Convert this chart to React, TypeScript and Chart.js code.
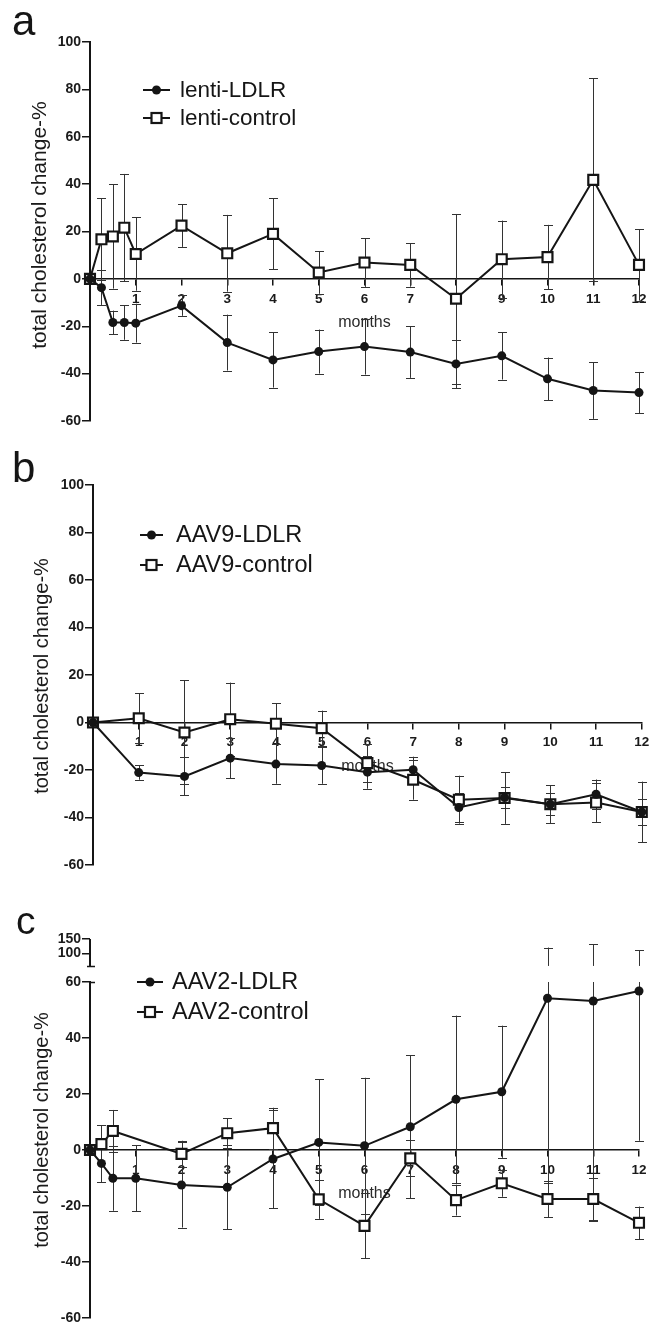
import React, { useEffect, useRef } from 'react';
import { Chart, registerables } from 'chart.js';

Chart.register(...registerables);

const FONT = '"Liberation Sans", Arial, Helvetica, sans-serif';
const INK = '#151515';
const BAR = '#333333';

// ---------- Panel a : lentivirus ----------
const A_MONTHS = [0, 0.25, 0.5, 0.75, 1, 2, 3, 4, 5, 6, 7, 8, 9, 10, 11, 12];
const A_LDLR = [0, -3.7, -18.4, -18.4, -18.7, -11.3, -26.9, -34.2, -30.7, -28.6, -30.9, -35.9, -32.5, -42.2, -47.1, -48.0];
const A_LDLR_ERR = [0, 7.3, 5.0, 7.3, 8.2, 4.3, 11.8, 11.7, 9.3, 11.8, 10.9, 10.2, 10.0, 9.0, 12.0, 8.7];
const A_CTRL = [0, 16.7, 17.9, 21.6, 10.5, 22.5, 10.8, 19.0, 2.7, 6.9, 5.9, -8.4, 8.3, 9.2, 41.8, 5.9];
const A_CTRL_ERR = [0, 17.3, 22.0, 22.7, 15.5, 9.0, 16.2, 15.0, 9.0, 10.3, 9.2, 35.8, 16.3, 13.6, 42.9, 15.1];

// ---------- Panel b : AAV9 ----------
const B_MONTHS = [0, 1, 2, 3, 4, 5, 6, 7, 8, 9, 10, 11, 12];
const B_LDLR = [0, -21.1, -22.7, -15.0, -17.5, -18.1, -20.9, -19.9, -35.8, -31.6, -34.4, -30.2, -37.7];
const B_LDLR_ERR = [0, 3.0, 8.0, 8.4, 8.3, 7.7, 7.0, 5.5, 6.0, 4.5, 4.6, 6.2, 12.8];
const B_CTRL = [0, 1.8, -4.2, 1.4, -0.5, -2.4, -17.1, -24.1, -32.5, -31.8, -34.4, -33.7, -37.7];
const B_CTRL_ERR = [0, 10.6, 21.9, 15.4, 8.7, 7.4, 8.0, 8.4, 10.1, 10.9, 8.0, 8.3, 5.4];

// ---------- Panel c : AAV2 ----------
const C_LDLR_MONTHS = [0, 0.25, 0.5, 1, 2, 3, 4, 5, 6, 7, 8, 9, 10, 11, 12];
const C_LDLR = [0, -4.8, -10.1, -10.1, -12.5, -13.3, -3.2, 2.7, 1.5, 8.3, 18.1, 20.8, 54.2, 53.2, 56.8];
const C_LDLR_ERR = [0, 6.7, 11.6, 11.8, 15.2, 15.0, 17.6, 22.5, 24.3, 25.6, 29.9, 23.6, 66.0, 78.6, 53.5];
const C_CTRL_MONTHS = [0, 0.25, 0.5, 2, 3, 4, 5, 6, 7, 8, 9, 10, 11, 12];
const C_CTRL = [0, 2.1, 6.8, -1.4, 6.0, 7.8, -17.6, -27.1, -3.0, -17.9, -11.9, -17.5, -17.5, -26.0];
const C_CTRL_ERR = [0, 6.8, 7.5, 4.7, 5.3, 7.3, 7.0, 11.6, 6.4, 5.5, 4.8, 6.5, 7.6, 5.8];
const C_UPPER_TICKS = [100, 150];

const Y_TITLE = 'total cholesterol change-%';
const X_TITLE = 'months';

function pts(xs: number[], ys: number[]) {
  return xs.map((x, i) => ({ x, y: ys[i] }));
}

const errorBars = {
  id: 'errorBars',
  beforeDatasetsDraw(chart: any, _a: any, opts: any) {
    const { ctx, scales } = chart;
    const xs = scales.x, ys = scales.y, ys2 = scales.y2;
    const cap = 4.5;
    const r = (v: number) => Math.round(v) + 0.5;
    ctx.save();
    ctx.strokeStyle = BAR;
    ctx.lineWidth = 1;
    const seg = (x: number, y1: number, y2: number) => {
      ctx.beginPath(); ctx.moveTo(x, y1); ctx.lineTo(x, y2); ctx.stroke();
    };
    const capAt = (x: number, y: number) => {
      ctx.beginPath(); ctx.moveTo(x - cap, r(y)); ctx.lineTo(x + cap, r(y)); ctx.stroke();
    };
    chart.data.datasets.forEach((ds: any) => {
      const errs: number[] = ds.errors || [];
      ds.data.forEach((p: any, i: number) => {
        const e = errs[i];
        if (!e) return;
        const x = r(xs.getPixelForValue(p.x));
        const lo = p.y - e, hi = p.y + e;
        const pLo = ys.getPixelForValue(lo);
        capAt(x, pLo);
        if (ys2 && hi > ys.max) {
          seg(x, pLo, ys.getPixelForValue(ys.max));
          const top = ys2.getPixelForValue(hi);
          seg(x, ys2.getPixelForValue(opts.breakAt), top);
          capAt(x, top);
        } else {
          const pHi = ys.getPixelForValue(hi);
          seg(x, pLo, pHi);
          capAt(x, pHi);
        }
      });
    });
    ctx.restore();
  },
};

function drawMarker(ctx: CanvasRenderingContext2D, kind: string, x: number, y: number) {
  ctx.save();
  if (kind === 'circle') {
    ctx.fillStyle = INK;
    ctx.beginPath(); ctx.arc(x, y, 4.5, 0, Math.PI * 2); ctx.fill();
  } else {
    ctx.fillStyle = '#fff';
    ctx.strokeStyle = INK;
    ctx.lineWidth = 2.2;
    ctx.fillRect(x - 5, y - 5, 10, 10);
    ctx.strokeRect(x - 5, y - 5, 10, 10);
  }
  ctx.restore();
}

const decor = {
  id: 'decor',
  afterDraw(chart: any, _a: any, o: any) {
    const { ctx, chartArea, scales } = chart;
    ctx.save();
    ctx.fillStyle = INK;
    ctx.font = `${o.letterSize}px ${FONT}`;
    ctx.textAlign = 'left';
    ctx.textBaseline = 'alphabetic';
    ctx.fillText(o.letter, o.letterX, o.letterY);

    // y-axis title (rotated)
    ctx.save();
    ctx.translate(o.titleX, o.titleY);
    ctx.rotate(-Math.PI / 2);
    ctx.textAlign = 'center';
    ctx.textBaseline = 'middle';
    ctx.fillStyle = '#1a1a1a';
    ctx.font = `${o.titleSize}px ${FONT}`;
    ctx.fillText(Y_TITLE, 0, 0);
    ctx.restore();

    if (scales.y2) {
      const x = chartArea.left;
      const yTop = scales.y2.getPixelForValue(scales.y2.max);
      const yBot = Math.round(scales.y2.getPixelForValue(o.breakAt)) + 0.5;
      ctx.strokeStyle = INK;
      ctx.lineWidth = 2;
      ctx.beginPath(); ctx.moveTo(x, yTop); ctx.lineTo(x, yBot); ctx.stroke();
      ctx.lineWidth = 1.5;
      ctx.beginPath(); ctx.moveTo(x - 3, yBot); ctx.lineTo(x + 5, yBot); ctx.stroke();
      const yLow = Math.round(scales.y.getPixelForValue(scales.y.max)) + 0.5;
      ctx.beginPath(); ctx.moveTo(x, yLow); ctx.lineTo(x + 5, yLow); ctx.stroke();
    }

    const L = o.legend;
    chart.data.datasets.forEach((ds: any, i: number) => {
      const y = chartArea.top + L.top + i * L.gap;
      const x0 = chartArea.left + L.lineStart;
      const x1 = chartArea.left + L.lineEnd;
      ctx.strokeStyle = INK;
      ctx.lineWidth = 2;
      ctx.beginPath(); ctx.moveTo(x0, y); ctx.lineTo(x1, y); ctx.stroke();
      drawMarker(ctx, ds.kind, (x0 + x1) / 2, y);
      ctx.fillStyle = INK;
      ctx.font = `${L.size}px ${FONT}`;
      ctx.textAlign = 'left';
      ctx.textBaseline = 'middle';
      ctx.fillText(ds.label, chartArea.left + L.textX, y + 1);
    });
    ctx.restore();
  },
};

type Spec = {
  letter: string; letterX: number; letterY: number; letterSize: number;
  ldlr: { label: string; x: number[]; y: number[]; err: number[] };
  ctrl: { label: string; x: number[]; y: number[]; err: number[] };
  yMin: number; yMax: number;
  upper?: boolean;
  padding: { left: number; top: number; right: number; bottom: number };
  yWidth: number; titleSize: number; titleX: number; titleY: number;
  legend: any;
  height: number;
};

function buildConfig(s: Spec): any {
  const tickFont = { family: FONT, size: 14, weight: 'bold' as const };
  const scales: any = {
    x: {
      type: 'linear', min: 0, max: 12, position: { y: 0 },
      border: { color: INK, width: 1.5 },
      grid: { drawOnChartArea: false, drawTicks: true, tickLength: 6, color: INK, lineWidth: 1.5 },
      ticks: {
        stepSize: 1, autoSkip: false, maxRotation: 0, padding: 6, color: '#1a1a1a',
        font: { family: FONT, size: 13.5, weight: 'bold' },
        callback: (v: number) => (v === 0 ? '' : String(v)),
      },
      title: { display: true, text: X_TITLE, color: '#2a2a2a', font: { family: FONT, size: 16 }, padding: { top: 0, bottom: 0 } },
      afterFit: (sc: any) => { sc.paddingLeft = 0; sc.paddingRight = 0; },
    },
    y: {
      type: 'linear', min: s.yMin, max: s.yMax, position: 'left',
      border: { color: INK, width: 2 },
      grid: { drawOnChartArea: false, drawTicks: true, tickLength: 8, color: INK, lineWidth: 1.5 },
      ticks: { stepSize: 20, padding: 1, color: '#1a1a1a', font: tickFont },
      afterFit: (sc: any) => { sc.width = s.yWidth; },
    },
  };
  if (s.upper) {
    scales.y.stack = 'broken';
    scales.y.stackWeight = 336;
    scales.y2 = {
      type: 'linear', min: 0, max: 150, position: 'left', stack: 'broken', stackWeight: 43,
      border: { display: false },
      grid: { drawOnChartArea: false, drawTicks: true, tickLength: 8, color: INK, lineWidth: 1.5 },
      ticks: { padding: 1, color: '#1a1a1a', font: tickFont },
      afterBuildTicks: (sc: any) => { sc.ticks = C_UPPER_TICKS.map((v) => ({ value: v })); },
      afterFit: (sc: any) => { sc.width = s.yWidth; },
    };
  }
  return {
    type: 'line',
    data: {
      datasets: [
        {
          label: s.ldlr.label, kind: 'circle', errors: s.ldlr.err,
          data: pts(s.ldlr.x, s.ldlr.y),
          borderColor: INK, borderWidth: 2, pointStyle: 'circle', pointRadius: 4.5,
          pointBackgroundColor: INK, pointBorderColor: INK, pointBorderWidth: 0,
          tension: 0, clip: false, yAxisID: 'y',
        },
        {
          label: s.ctrl.label, kind: 'square', errors: s.ctrl.err,
          data: pts(s.ctrl.x, s.ctrl.y),
          borderColor: INK, borderWidth: 2, pointStyle: 'rect', pointRadius: 7,
          pointBackgroundColor: '#ffffff', pointBorderColor: INK, pointBorderWidth: 2.2,
          tension: 0, clip: false, yAxisID: 'y',
        },
      ],
    },
    options: {
      responsive: false,
      animation: false,
      events: [],
      layout: { padding: s.padding },
      scales,
      plugins: {
        legend: { display: false },
        tooltip: { enabled: false },
        errorBars: { breakAt: 56 },
        decor: {
          letter: s.letter, letterX: s.letterX, letterY: s.letterY, letterSize: s.letterSize,
          breakAt: 56, legend: s.legend,
          titleX: s.titleX, titleY: s.titleY, titleSize: s.titleSize,
        },
      },
    },
    plugins: [errorBars, decor],
  };
}

const SPECS: { top: number; spec: Spec }[] = [
  {
    top: 0,
    spec: {
      letter: 'a', letterX: 12, letterY: 35, letterSize: 42,
      ldlr: { label: 'lenti-LDLR', x: A_MONTHS, y: A_LDLR, err: A_LDLR_ERR },
      ctrl: { label: 'lenti-control', x: A_MONTHS, y: A_CTRL, err: A_CTRL_ERR },
      yMin: -60, yMax: 100,
      padding: { left: 0, top: 42, right: 12, bottom: 19 },
      yWidth: 90, titleSize: 21, titleX: 40, titleY: 225,
      legend: { top: 48, gap: 28, lineStart: 53, lineEnd: 80, textX: 90, size: 22.5 },
      height: 440,
    },
  },
  {
    top: 440,
    spec: {
      letter: 'b', letterX: 12, letterY: 42, letterSize: 42,
      ldlr: { label: 'AAV9-LDLR', x: B_MONTHS, y: B_LDLR, err: B_LDLR_ERR },
      ctrl: { label: 'AAV9-control', x: B_MONTHS, y: B_CTRL, err: B_CTRL_ERR },
      yMin: -60, yMax: 100,
      padding: { left: 0, top: 45, right: 8, bottom: 15 },
      yWidth: 93, titleSize: 20, titleX: 42, titleY: 236,
      legend: { top: 50, gap: 30, lineStart: 47, lineEnd: 70, textX: 83, size: 23.5 },
      height: 440,
    },
  },
  {
    top: 880,
    spec: {
      letter: 'c', letterX: 16, letterY: 54, letterSize: 39,
      ldlr: { label: 'AAV2-LDLR', x: C_LDLR_MONTHS, y: C_LDLR, err: C_LDLR_ERR },
      ctrl: { label: 'AAV2-control', x: C_CTRL_MONTHS, y: C_CTRL, err: C_CTRL_ERR },
      yMin: -60, yMax: 60, upper: true,
      padding: { left: 0, top: 59, right: 12, bottom: 10 },
      yWidth: 90, titleSize: 20, titleX: 42, titleY: 250,
      legend: { top: 43, gap: 30, lineStart: 47, lineEnd: 73, textX: 82, size: 23.5 },
      height: 448,
    },
  },
];

function Panel({ top, spec }: { top: number; spec: Spec }) {
  const ref = useRef<HTMLCanvasElement>(null);
  useEffect(() => {
    const chart = new Chart(ref.current as HTMLCanvasElement, buildConfig(spec));
    return () => chart.destroy();
  }, [spec]);
  return (
    <canvas
      ref={ref}
      width={651}
      height={spec.height}
      style={{ position: 'absolute', left: 0, top, width: 651, height: spec.height, display: 'block' }}
    />
  );
}

export default function App() {
  return (
    <div style={{ position: 'absolute', left: 0, top: 0, width: 651, height: 1324, overflow: 'hidden', background: '#fff' }}>
      {SPECS.map((p) => (
        <Panel key={p.spec.letter} top={p.top} spec={p.spec} />
      ))}
    </div>
  );
}
